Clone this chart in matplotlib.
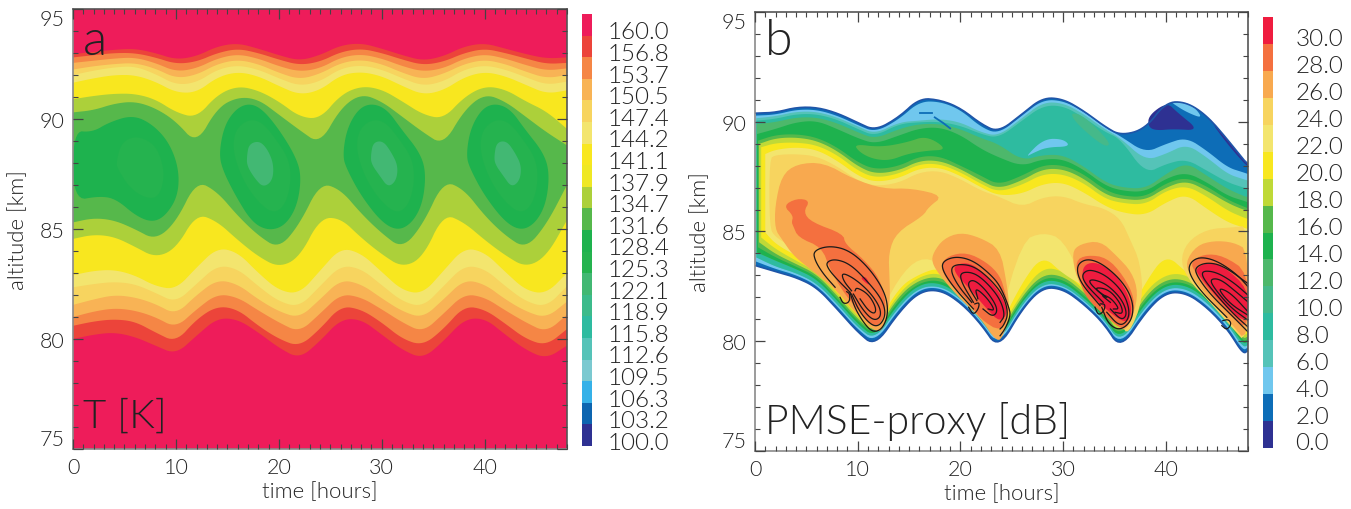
import numpy as np
import matplotlib
matplotlib.use("Agg")
import matplotlib.pyplot as plt

plt.rcParams['font.family'] = ['Lato', 'DejaVu Sans']
plt.rcParams['font.weight'] = 300
plt.rcParams['axes.labelweight'] = 300

W, H = 1351, 510
TEXT = '#222222'

# ---- panel a: temperature -----
T_LABELS = ['100.0', '103.2', '106.3', '109.5', '112.6', '115.8', '118.9', '122.1', '125.3', '128.4',
            '131.6', '134.7', '137.9', '141.1', '144.2', '147.4', '150.5', '153.7', '156.8', '160.0']
T_COLORS = ['#2E3192', '#0D65B0', '#35B1E8', '#7BC9D0', '#55C3B8', '#2EBBA0', '#3CBB8B', '#42B873', '#25B34F', '#1EB24E',
            '#56B84B', '#ACD03A', '#EFE824', '#F8E71F', '#F3E56E', '#F7D45F', '#F8B355', '#F58645', '#EC443A', '#EE1C5A']

t_a = list(range(0, 50, 2))

# isotherm heights below the cold core
low_1 = [80.0, 80.2, 80.3, 80.1, 79.7, 79.3, 80.15, 80.95, 80.9, 80.3, 79.6, 79.1, 79.9, 80.9, 80.9, 80.2, 79.5, 79.1, 79.9, 80.9, 80.95, 80.2, 79.5, 79.1, 79.7]
low_2 = [80.6, 80.8, 80.9, 80.8, 80.3, 79.85, 80.9, 81.5, 81.35, 80.6, 80.0, 79.65, 80.45, 81.5, 81.35, 80.75, 80.0, 79.7, 80.45, 81.5, 81.35, 80.7, 80.0, 79.7, 80.45]
low_3 = [81.0, 81.25, 81.4, 81.3, 81.0, 80.5, 81.35, 82.05, 81.9, 81.3, 80.75, 80.3, 81.15, 82.05, 81.9, 81.35, 80.75, 80.3, 81.15, 82.05, 81.9, 81.3, 80.75, 80.3, 81.1]
low_4 = [81.55, 81.8, 82.0, 81.9, 81.6, 81.1, 82.0, 82.7, 82.5, 81.8, 81.25, 80.95, 81.8, 82.7, 82.5, 81.85, 81.25, 80.95, 81.8, 82.7, 82.5, 81.8, 81.25, 80.95, 81.7]
low_5 = [82.35, 82.5, 82.6, 82.5, 82.1, 81.65, 82.5, 83.35, 83.2, 82.4, 81.7, 81.45, 82.4, 83.35, 83.2, 82.45, 81.7, 81.45, 82.4, 83.35, 83.2, 82.4, 81.7, 81.45, 82.4]
low_6 = [82.9, 83.1, 83.15, 82.9, 82.4, 82.25, 83.25, 84.15, 83.95, 83.0, 82.2, 82.05, 83.1, 84.15, 83.9, 83.05, 82.2, 82.05, 83.1, 84.15, 83.95, 83.05, 82.2, 82.05, 83.0]
low_7 = [84.55, 84.75, 84.65, 84.2, 83.7, 84.1, 85.7, 85.35, 84.5, 83.75, 83.25, 83.7, 85.5, 85.5, 84.6, 83.85, 83.25, 83.7, 85.7, 85.3, 84.5, 83.8, 83.25, 83.75, 85.4]
low_8 = [85.3, 85.5, 85.4, 85.0, 84.5, 85.3, 87.2, 86.7, 85.6, 84.7, 84.1, 85.2, 87.1, 86.8, 85.7, 84.8, 84.1, 85.2, 87.2, 86.8, 85.6, 84.7, 84.1, 85.2, 87.0]

# isotherm heights above the cold core
up_1 = [92.95, 93.05, 93.15, 93.2, 93.0, 92.7, 92.85, 93.3, 93.45, 93.2, 92.9, 92.65, 92.9, 93.35, 93.45, 93.2, 92.9, 92.65, 92.85, 93.3, 93.45, 93.2, 92.95, 92.75, 92.8]
up_2 = [92.8, 92.9, 93.0, 93.0, 92.8, 92.5, 92.6, 93.0, 93.2, 93.0, 92.7, 92.45, 92.6, 93.05, 93.2, 93.0, 92.7, 92.45, 92.6, 93.0, 93.2, 93.0, 92.75, 92.5, 92.55]
up_3 = [92.55, 92.65, 92.75, 92.8, 92.55, 92.15, 92.3, 92.75, 92.95, 92.75, 92.4, 92.15, 92.3, 92.8, 92.95, 92.75, 92.4, 92.15, 92.3, 92.75, 92.95, 92.75, 92.45, 92.2, 92.3]
up_4 = [92.25, 92.4, 92.5, 92.55, 92.3, 91.85, 92.0, 92.5, 92.7, 92.5, 92.1, 91.8, 92.05, 92.55, 92.7, 92.5, 92.1, 91.8, 92.05, 92.5, 92.7, 92.5, 92.15, 91.85, 92.0]
up_5 = [92.0, 92.2, 92.35, 92.4, 92.05, 91.55, 91.65, 92.25, 92.45, 92.25, 91.85, 91.5, 91.7, 92.3, 92.45, 92.25, 91.85, 91.5, 91.7, 92.25, 92.45, 92.25, 91.9, 91.55, 91.7]
up_6 = [91.65, 91.85, 92.0, 92.0, 91.7, 91.2, 91.2, 91.9, 92.15, 91.95, 91.5, 91.1, 91.3, 92.0, 92.15, 91.95, 91.5, 91.1, 91.3, 91.9, 92.15, 91.95, 91.55, 91.15, 91.3]
up_7 = [90.9, 91.05, 91.15, 91.15, 90.9, 90.3, 90.05, 91.1, 91.5, 91.3, 90.8, 90.1, 90.0, 91.1, 91.5, 91.35, 90.8, 90.2, 90.0, 91.0, 91.5, 91.35, 90.8, 90.35, 89.55]
up_8 = [90.3, 90.4, 90.7, 90.8, 90.5, 89.9, 88.85, 90.5, 91.0, 90.9, 90.2, 89.5, 88.85, 90.5, 91.15, 90.8, 90.1, 89.4, 88.8, 90.4, 91.15, 90.8, 90.1, 89.4, 88.8]

# closed cold cells, (time, altitude), colour index into T_COLORS
cell_1_t = [0, 1.9, 3.5, 5.8, 7.7, 9.35, 10.3, 10.2, 9.0, 7.7, 6.1, 4.2, 2.6, 0]
cell_1_z = [89.47, 89.4, 89.85, 90.18, 89.77, 88.93, 87.72, 86.5, 85.6, 85.3, 85.6, 86.36, 86.5, 86.28]
cell_1b_t = [4.2, 4.7, 6.1, 7.7, 8.5, 8.9, 8.4, 7.3, 5.6, 4.35]
cell_1b_z = [88.03, 88.93, 89.24, 88.93, 88.33, 87.42, 86.5, 86.36, 86.81, 87.72]
cell_2_t = [14.2, 14.7, 15.8, 17.1, 18.4, 20.0, 21.6, 22.2, 21.8, 20.6, 19.0, 17.4, 15.8, 14.5]
cell_2_z = [88.48, 89.69, 90.45, 90.72, 90.45, 89.54, 88.33, 87.42, 86.06, 85.15, 84.92, 85.3, 86.5, 87.72]
cell_2b_t = [15.5, 15.8, 17.1, 18.4, 19.7, 21.0, 21.2, 20.6, 19.4, 17.7, 16.3]
cell_2b_z = [88.63, 89.54, 90.0, 89.85, 89.09, 88.18, 87.12, 86.06, 85.68, 86.36, 87.42]
cell_2c_t = [16.9, 17.1, 18.1, 18.9, 19.5, 19.4, 18.5, 17.7, 16.9]
cell_2c_z = [88.33, 88.86, 89.01, 88.63, 87.95, 87.2, 86.89, 87.27, 87.87]
cell_3_t = [26.2, 26.6, 27.7, 29.0, 30.5, 31.9, 33.7, 34.3, 34.0, 33.0, 31.6, 30.0, 28.0, 26.6]
cell_3_z = [88.33, 89.54, 90.45, 90.72, 90.45, 89.54, 88.48, 87.57, 86.2, 85.3, 84.92, 85.3, 86.5, 87.72]
cell_3b_t = [27.5, 27.8, 29.1, 30.4, 31.7, 33.0, 33.2, 32.6, 31.4, 29.7, 28.3]
cell_3b_z = [88.63, 89.54, 90.0, 89.85, 89.09, 88.18, 87.12, 86.06, 85.68, 86.36, 87.42]
cell_3c_t = [28.93, 29.16, 30.13, 30.94, 31.58, 31.42, 30.61, 29.8, 29.0]
cell_3c_z = [88.33, 88.94, 89.01, 88.48, 87.87, 87.2, 86.89, 87.42, 87.95]
cell_4_t = [38.2, 38.6, 39.7, 41.0, 42.5, 43.9, 45.7, 46.3, 46.0, 45.0, 43.6, 42.0, 40.0, 38.6]
cell_4_z = [88.33, 89.54, 90.45, 90.72, 90.45, 89.54, 88.48, 87.57, 86.2, 85.3, 84.92, 85.3, 86.5, 87.72]
cell_4b_t = [39.5, 39.8, 41.1, 42.4, 43.7, 45.0, 45.2, 44.6, 43.4, 41.7, 40.3]
cell_4b_z = [88.63, 89.54, 90.0, 89.85, 89.09, 88.18, 87.12, 86.06, 85.68, 86.36, 87.42]
cell_4c_t = [40.93, 41.16, 42.13, 42.94, 43.58, 43.42, 42.61, 41.8, 41.0]
cell_4c_z = [88.33, 88.94, 89.01, 88.48, 87.87, 87.2, 86.89, 87.42, 87.95]

# ---- panel b: PMSE proxy -----
P_LABELS = ['0.0', '2.0', '4.0', '6.0', '8.0', '10.0', '12.0', '14.0', '16.0', '18.0', '20.0', '22.0', '24.0', '26.0', '28.0', '30.0']
P_COLORS = ['#2E3192', '#0D6DB7', '#70C7EE', '#55C3B8', '#2EBBA0', '#45B98A', '#4DB86B', '#1EB24E', '#56B84B', '#BFD937',
            '#F8E71F', '#F3E56E', '#F7D45F', '#F8A94F', '#F4703F', '#EF1C3F']

t_b = [0, 2, 4, 6, 8, 10, 11.7, 14, 16, 18, 20, 22, 23.7, 26, 28, 30, 32, 34, 35.6, 38, 40, 42, 44, 46, 47.5, 48]

env_top = [90.39, 90.42, 90.66, 90.66, 90.40, 89.96, 89.60, 90.20, 91.07, 91.00, 90.63, 89.90, 89.52, 90.35, 91.10, 91.04, 90.50, 89.80, 89.37, 89.67, 90.90, 90.90, 90.28, 89.20, 88.30, 88.08]
top_4 = [90.28, 90.32, 90.55, 90.55, 90.28, 89.85, 89.52, 90.10, 90.92, 90.92, 90.55, 89.75, 89.44, 90.28, 91.0, 90.96, 90.46, 89.75, 89.34, 88.58, 88.99, 89.29, 88.68, 87.92, 87.70, 87.62]
top_6 = [90.16, 90.25, 90.46, 90.46, 90.20, 89.79, 89.44, 89.98, 90.05, 90.13, 89.98, 89.52, 89.34, 90.16, 90.89, 90.86, 90.35, 89.67, 89.25, 88.23, 88.53, 88.99, 88.38, 87.62, 87.39, 87.32]
top_8 = [90.05, 90.13, 90.35, 90.35, 90.10, 89.67, 89.34, 89.90, 89.98, 90.0, 89.82, 89.44, 89.25, 90.05, 90.73, 90.73, 90.20, 89.55, 89.22, 87.62, 88.08, 88.30, 87.77, 87.24, 87.01, 86.94]
top_12 = [89.90, 89.98, 90.20, 90.20, 89.94, 89.52, 89.22, 89.67, 89.90, 89.90, 89.67, 89.25, 88.99, 88.23, 88.49, 88.49, 87.97, 87.27, 87.01, 86.94, 87.62, 88.15, 87.54, 86.94, 86.63, 86.56]
top_14 = [89.44, 89.67, 89.98, 90.05, 89.67, 89.25, 88.99, 89.37, 89.70, 89.75, 89.40, 88.76, 88.38, 87.97, 88.30, 88.30, 87.82, 87.12, 86.86, 86.79, 87.42, 87.70, 87.24, 86.63, 86.41, 86.33]
top_16 = [89.14, 89.40, 89.44, 89.29, 88.84, 88.15, 87.82, 87.97, 88.43, 88.43, 88.0, 87.54, 87.12, 87.54, 88.03, 88.03, 87.62, 86.91, 86.63, 86.56, 87.21, 87.47, 87.06, 86.45, 86.15, 86.06]
top_18 = [88.99, 89.25, 89.29, 89.14, 88.68, 87.97, 87.62, 87.77, 88.23, 88.23, 87.85, 87.32, 86.94, 87.32, 87.85, 87.85, 87.42, 86.71, 86.48, 86.41, 87.01, 87.32, 86.86, 86.30, 86.0, 85.95]
top_20 = [88.84, 89.03, 89.06, 88.94, 88.49, 87.77, 87.44, 87.62, 88.08, 88.08, 87.70, 87.17, 86.79, 87.12, 87.62, 87.62, 87.21, 86.51, 86.30, 86.21, 86.86, 87.09, 86.60, 85.95, 85.65, 85.57]
top_22 = [88.53, 88.73, 88.84, 88.73, 88.23, 87.54, 87.24, 87.42, 87.88, 87.92, 87.54, 87.01, 86.63, 86.71, 87.17, 87.24, 86.79, 86.18, 85.87, 85.72, 86.33, 86.71, 86.03, 85.42, 85.19, 85.11]

env_bot = [83.44, 83.17, 82.91, 82.46, 81.47, 80.41, 79.77, 81.32, 82.26, 82.35, 81.77, 80.79, 79.62, 81.47, 82.46, 82.38, 81.70, 80.79, 79.62, 81.32, 82.23, 82.20, 81.55, 80.56, 79.42, 79.57]
bot_4 = [83.63, 83.29, 83.02, 82.56, 81.59, 80.53, 79.93, 81.47, 82.38, 82.46, 81.88, 80.89, 79.77, 81.59, 82.56, 82.49, 81.80, 80.89, 79.77, 81.47, 82.33, 82.30, 81.65, 80.68, 79.57, 79.72]
bot_8 = [83.82, 83.40, 83.11, 82.65, 81.70, 80.63, 80.05, 81.59, 82.46, 82.53, 81.97, 80.98, 79.88, 81.70, 82.64, 82.56, 81.88, 80.98, 79.88, 81.59, 82.43, 82.41, 81.77, 80.79, 79.72, 79.83]
bot_14 = [84.05, 83.67, 83.29, 82.84, 81.85, 80.79, 80.15, 81.77, 82.61, 82.68, 82.10, 81.09, 80.0, 81.85, 82.79, 82.71, 82.0, 81.09, 80.0, 81.77, 82.58, 82.56, 81.92, 80.94, 79.87, 79.98]
bot_16 = [84.28, 83.82, 83.40, 82.96, 81.95, 80.91, 80.26, 81.92, 82.68, 82.81, 82.23, 81.24, 80.12, 81.95, 82.91, 82.84, 82.11, 81.21, 80.12, 81.92, 82.68, 82.68, 82.05, 81.04, 79.98, 80.10]
bot_18 = [84.51, 83.97, 83.52, 83.06, 82.08, 81.01, 80.35, 82.08, 82.81, 82.96, 82.35, 81.39, 80.23, 82.08, 83.06, 82.99, 82.23, 81.35, 80.23, 82.08, 82.84, 82.81, 82.15, 81.16, 80.10, 80.22]
bot_20 = [84.73, 84.20, 83.67, 83.17, 82.20, 81.13, 80.46, 82.23, 82.96, 83.14, 82.46, 81.54, 80.38, 82.23, 83.37, 83.22, 82.35, 81.50, 80.38, 82.30, 83.06, 83.06, 82.30, 81.32, 80.25, 80.37]
bot_22 = [84.96, 84.43, 83.90, 83.32, 82.35, 81.24, 80.58, 82.46, 83.06, 83.37, 82.61, 81.70, 80.53, 82.68, 83.93, 83.06, 82.53, 81.62, 80.53, 82.68, 83.98, 83.14, 82.46, 81.44, 80.41, 80.48]

# 24 dB region, outline clockwise from the left edge
r24_t = [1.4, 2, 4, 6, 8, 10, 11.7, 14, 16, 18, 20, 22, 23.7, 26, 28, 30, 32, 34, 35.6, 36.5, 37.5, 37.8, 36.36, 35.6, 34, 32, 30, 28, 26, 23.7, 22, 20, 18, 16, 14, 11.7, 10, 8, 6, 4, 2, 1.4]
r24_z = [88.3, 88.49, 88.53, 88.43, 87.97, 87.32, 87.06, 87.21, 87.70, 87.77, 87.39, 86.86, 86.60, 86.10, 86.56, 86.63, 86.25, 86.06, 85.57, 84.66, 83.6, 81.92, 80.25, 80.79, 81.77, 82.68, 84.66, 84.96, 84.58, 80.79, 81.85, 82.84, 83.6, 83.82, 82.91, 80.79, 81.39, 82.53, 83.52, 84.2, 84.73, 85.19]
r24b_t = [41.4, 42.04, 44, 46.6, 48.05, 48.05, 46.26, 44, 42.4]
r24b_z = [83.6, 84.51, 85.11, 85.19, 85.27, 79.8, 80.71, 81.93, 82.68]

# 26 dB regions
r26a_t = [1.95, 2.6, 4.06, 6.66, 9.58, 12.5, 15.26, 18.34, 16.88, 16.4, 13.8, 13.0, 13.1, 13.15, 12.66, 11.85, 9.58, 7.63, 5.36, 3.73, 2.6, 1.95]
r26a_z = [86.18, 87.55, 88.08, 88.15, 87.39, 86.94, 86.97, 86.63, 86.1, 85.72, 84.96, 84.05, 82.84, 81.77, 80.71, 80.33, 81.39, 82.46, 83.29, 83.9, 84.66, 85.11]
r26b_t = [17.37, 18.34, 19.97, 21.9, 23.86, 24.5, 24.83, 24.2, 23.54, 21.9, 19.97, 18.0, 17.2]
r26b_z = [84.05, 84.66, 84.96, 84.73, 84.2, 82.68, 81.32, 80.25, 79.95, 81.09, 81.93, 82.99, 83.6]
r26c_t = [30.84, 31.65, 33.6, 35.2, 36.7, 37.3, 36.85, 36.0, 34.9, 33.0, 31.3]
r26c_z = [84.05, 84.43, 84.58, 83.9, 83.14, 82.23, 81.17, 80.41, 80.86, 81.62, 82.84]
r26d_t = [41.9, 43.0, 44.64, 46.6, 48.05, 48.05, 46.26, 44.0, 42.4]
r26d_z = [83.6, 84.36, 84.58, 84.51, 84.13, 79.87, 80.86, 82.08, 82.99]

# 28 dB regions
r28a_t = [2.76, 4.06, 5.36, 4.71, 5.52, 8.6, 8.77, 10.55, 12.18, 12.82, 12.34, 11.53, 10.23, 8.6, 7.3, 6.5, 4.2, 3.7, 3.57, 3.73]
r28a_z = [86.18, 86.51, 86.41, 85.88, 85.42, 84.89, 84.43, 83.75, 82.84, 81.62, 80.86, 80.63, 81.32, 82.23, 83.29, 84.28, 84.73, 85.27, 85.42, 85.72]
r28b_t = [18.0, 18.83, 20.62, 22.56, 23.86, 24.35, 24.83, 24.0, 21.9, 20.62, 18.83]
r28b_z = [83.44, 83.9, 84.05, 83.6, 82.99, 82.23, 81.32, 80.41, 81.01, 81.93, 82.68]
r28c_t = [31.2, 32.3, 34.25, 35.87, 37.0, 36.7, 35.87, 34.25, 32.3, 31.5]
r28c_z = [83.67, 83.93, 83.82, 82.99, 81.93, 81.01, 80.48, 81.09, 81.93, 82.84]
r28d_t = [42.4, 43.7, 45.6, 48.05, 48.05, 46.6, 44.3, 42.85]
r28d_z = [83.6, 83.98, 83.9, 83.14, 80.56, 81.0, 82.23, 83.14]

# 30 dB regions
r30a_t = [10.25, 10.8, 11.2, 10.8]
r30a_z = [82.9, 82.95, 82.55, 82.65]
r30b_t = [19.3, 20.62, 21.9, 23.86, 24.67, 23.86, 22.56, 20.94, 19.64]
r30b_z = [83.44, 83.6, 83.29, 82.23, 81.32, 80.86, 81.47, 82.38, 82.99]
r30c_t = [31.8, 32.14, 33.3, 34.9, 36.2, 36.7, 36.36, 35.4, 33.76, 32.3]
r30c_z = [83.06, 83.52, 83.6, 83.14, 82.3, 81.47, 80.86, 81.0, 81.62, 82.3]
r30d_t = [42.85, 44.0, 45.6, 48.05, 48.05, 46.9, 45.0, 43.34]
r30d_z = [83.29, 83.6, 83.44, 82.38, 80.94, 81.09, 81.98, 82.91]

# small patches up in the thin layer
green_t = [30.7, 32.0, 34.6, 34.25, 33.0, 31.2]
green_z = [90.43, 90.28, 89.07, 88.84, 89.22, 89.98]
mid_green_t = [9.6, 12.2, 14.8, 16.7, 18.8, 16.7, 14.8, 13.1, 11.5, 10.2]
mid_green_z = [88.99, 88.84, 89.06, 89.37, 88.73, 88.68, 88.53, 88.23, 88.3, 88.6]
sky_t = [26.3, 28.1, 30.0, 30.74, 28.4, 27.1]
sky_z = [88.38, 89.22, 89.22, 88.87, 88.84, 88.58]
navy_t = [38.3, 40.1, 41.1, 43.3, 40.7, 39.1, 38.3]
navy_z = [90.28, 90.89, 90.43, 89.6, 89.67, 89.6, 89.75]
navy_edge_t = [44.5, 46.0, 47.5, 48.05, 48.05, 46.5, 45.0]
navy_edge_z = [90.0, 89.2, 88.3, 88.08, 87.9, 88.7, 89.6]
sky_strip_t = [40.6, 42.4, 43.7, 42.04, 40.75]
sky_strip_z = [90.89, 90.86, 90.13, 90.43, 90.81]

# black contour lines, (time, altitude)
lines_t = [
    [7.8, 6.66, 5.84, 5.68, 7.3, 9.25, 11.2, 12.66, 12.99, 12.5, 11.69, 10.9, 9.74, 9.25],
    [9.25, 7.95, 7.14, 6.92, 7.79, 9.25, 10.9, 12.34, 12.76, 12.18, 11.36, 10.2, 9.4],
    [9.4, 8.6, 8.44, 9.74, 11.2, 12.18, 12.24, 11.53, 10.55, 9.58],
    [9.74, 9.9, 11.04, 11.78, 11.69, 11.04, 10.23],
    [8.28, 8.6, 9.19, 9.25, 8.93],
    [21.27, 19.32, 18.18, 18.34, 19.64, 21.27, 22.89, 23.86, 24.67, 24.9, 24.35, 23.86],
    [21.1, 19.64, 19.0, 19.64, 21.27, 22.89, 24.2, 24.67, 24.2, 23.86],
    [21.27, 20.1, 19.97, 21.27, 22.56, 23.86, 24.35, 23.86],
    [21.6, 20.6, 21.27, 22.56, 23.7, 23.2, 22.2],
    [21.7, 21.4, 22.56, 23.4, 22.7],
    [20.8, 21.27, 21.75, 21.85, 21.4],
    [33.6, 31.65, 31.26, 32.3, 33.9, 35.87, 36.85, 36.7, 35.55, 34.4, 33.76],
    [33.9, 32.14, 31.8, 32.6, 34.25, 35.87, 36.5, 36.2, 35.4, 34.25],
    [34.09, 32.46, 32.8, 34.25, 35.7, 36.26, 35.7, 34.6],
    [34.25, 32.9, 34.4, 35.55, 35.87, 35.06],
    [34.6, 33.6, 34.6, 35.5, 34.9],
    [33.1, 33.44, 34.0, 34.1, 33.6],
    [45.94, 43.34, 42.2, 42.37, 43.34, 44.97, 46.9, 48.05],
    [48.05, 46.6, 44.3, 43.0, 42.85, 44.0, 45.6, 48.05],
    [48.05, 46.4, 44.3, 43.5, 43.66, 44.97, 46.6, 48.05],
    [48.05, 46.26, 44.64, 44.3, 45.3, 46.9, 48.05],
    [48.05, 46.26, 44.97, 46.26, 48.05],
    [45.45, 45.94, 46.4, 46.1, 45.55],
]
lines_z = [
    [82.46, 83.06, 83.67, 84.13, 84.36, 84.13, 83.29, 82.23, 81.32, 80.63, 80.4, 80.63, 81.47, 82.23],
    [82.23, 82.84, 83.29, 83.6, 83.75, 83.52, 82.76, 81.93, 81.24, 80.71, 80.71, 81.32, 82.15],
    [82.3, 82.76, 83.14, 82.84, 82.23, 81.55, 81.09, 80.94, 81.39, 82.15],
    [82.3, 82.46, 82.15, 81.55, 81.24, 81.39, 81.93],
    [82.0, 81.7, 81.77, 82.15, 82.26],
    [81.47, 82.46, 83.29, 83.67, 83.87, 83.67, 83.06, 82.53, 81.62, 81.17, 80.56, 80.25],
    [81.77, 82.61, 83.29, 83.52, 83.44, 82.84, 82.08, 81.24, 80.71, 80.56],
    [81.77, 82.68, 83.14, 83.14, 82.68, 81.93, 81.17, 80.86],
    [81.85, 82.61, 82.84, 82.3, 81.47, 81.09, 81.47],
    [81.93, 82.46, 82.0, 81.39, 81.47],
    [81.55, 81.2, 81.47, 81.77, 81.7],
    [81.62, 82.68, 83.44, 83.78, 83.52, 82.68, 81.77, 80.94, 80.48, 80.78, 81.55],
    [81.77, 82.61, 83.06, 83.29, 82.99, 82.23, 81.39, 80.86, 80.71, 81.32],
    [82.0, 82.68, 82.84, 82.6, 81.93, 81.24, 80.94, 81.47],
    [82.0, 82.46, 82.38, 81.77, 81.24, 81.32],
    [81.77, 82.15, 82.0, 81.47, 81.47],
    [81.55, 81.17, 81.39, 81.7, 81.7],
    [81.09, 82.3, 83.14, 83.6, 83.85, 83.67, 83.06, 82.46],
    [80.4, 81.09, 82.15, 82.99, 83.37, 83.6, 83.44, 82.61],
    [80.63, 81.32, 82.46, 82.99, 83.22, 83.14, 82.68, 82.08],
    [80.94, 81.55, 82.46, 82.84, 82.84, 82.23, 81.77],
    [81.17, 81.7, 82.46, 82.23, 81.32],
    [80.71, 80.51, 80.79, 81.0, 80.94],
]


def smooth(x, y, closed=False, passes=3):
    """Corner cutting so the read points do not show as a polygon"""
    p = np.column_stack([x, y]).astype(float)
    for _ in range(passes):
        q = np.roll(p, -1, axis=0) if closed else p[1:]
        a = p if closed else p[:-1]
        cut = np.empty((2 * len(a), 2))
        cut[0::2] = 0.75 * a + 0.25 * q
        cut[1::2] = 0.25 * a + 0.75 * q
        p = cut if closed else np.vstack([p[0], cut, p[-1]])
    return p[:, 0], p[:, 1]


def band(ax, t, low, up, color, left=0.0):
    t = np.maximum(np.array(t, float), left)
    tl, zl = smooth(t, low)
    tu, zu = smooth(t, up)
    ax.fill(np.r_[tu, tl[::-1]], np.r_[zu, zl[::-1]], color=color, lw=0)


def blob(ax, t, z, color, passes=3):
    ts, zs = smooth(t, z, closed=True, passes=passes)
    ax.fill(ts, zs, color=color, lw=0)


def frame(ax):
    ax.set_xlim(0, 48)
    ax.set_ylim(75, 95)
    ax.set_xticks(range(0, 50, 10))
    ax.set_xticks(range(0, 49), minor=True)
    ax.set_yticks(range(75, 100, 5))
    ax.set_yticks(range(75, 96), minor=True)
    ax.tick_params(which='major', direction='in', top=True, right=True, length=7.5, width=0.9,
                   color='#444444', labelsize=15.5, labelcolor=TEXT, pad=6)
    ax.tick_params(which='minor', direction='in', top=True, right=True, length=3.6, width=0.8, color='#444444')
    # end labels sit inside the axis range
    labels = ax.get_yticklabels()
    labels[0].set_va('bottom')
    labels[-1].set_va('top')
    for side in ax.spines.values():
        side.set_color('#555555')
        side.set_linewidth(1.2)
    ax.spines['left'].set_color('#8a8a8a')
    ax.spines['bottom'].set_color('#8a8a8a')
    ax.set_xlabel('time [hours]', fontsize=16, color=TEXT, labelpad=3)
    ax.set_ylabel('altitude [km]', fontsize=16, color=TEXT, labelpad=8)
    ax.set_axisbelow(False)


def colorbar(fig, box, labels, colors, pad):
    cax = fig.add_axes(box)
    n = len(colors)
    cax.barh(np.arange(n) + 0.5, [1] * n, height=1.0, color=colors, lw=0)
    cax.set_xlim(0, 1)
    cax.set_ylim(0, n)
    cax.set_xticks([])
    cax.set_yticks(np.arange(n) + 0.26)
    cax.set_yticklabels(labels, fontsize=17.5, color=TEXT)
    cax.yaxis.tick_right()
    cax.tick_params(axis='y', length=0, pad=pad)
    for side in cax.spines.values():
        side.set_visible(False)


def px_box(x0, x1, y0, y1):
    return [x0 / W, 1 - y1 / H, (x1 - x0) / W, (y1 - y0) / H]


def draw_temperature(ax):
    c = dict(zip(T_LABELS, T_COLORS))
    ax.set_facecolor(c['160.0'])
    pairs = [(low_1, up_1, '156.8'), (low_2, up_2, '153.7'), (low_3, up_3, '150.5'), (low_4, up_4, '147.4'),
             (low_5, up_5, '144.2'), (low_6, up_6, '141.1'), (low_7, up_7, '134.7'), (low_8, up_8, '131.6')]
    for low, up, key in pairs:
        band(ax, t_a, low, up, c[key])
    cells = [(cell_1_t, cell_1_z, '128.4'), (cell_1b_t, cell_1b_z, '125.3'),
             (cell_2_t, cell_2_z, '128.4'), (cell_2b_t, cell_2b_z, '125.3'), (cell_2c_t, cell_2c_z, '122.1'),
             (cell_3_t, cell_3_z, '128.4'), (cell_3b_t, cell_3b_z, '125.3'), (cell_3c_t, cell_3c_z, '122.1'),
             (cell_4_t, cell_4_z, '128.4'), (cell_4b_t, cell_4b_z, '125.3'), (cell_4c_t, cell_4c_z, '122.1')]
    for t, z, key in cells:
        blob(ax, t, z, c[key])
    frame(ax)
    ax.text(1.0, 93.55, 'a', fontsize=36, color=TEXT, va='center')
    ax.text(1.0, 76.5, 'T [K]', fontsize=29, color=TEXT, va='center')


def draw_proxy(ax):
    c = dict(zip(P_LABELS, P_COLORS))
    ax.set_facecolor('white')
    stack = [(env_bot, env_top, '2.0', 0.08), (bot_4, top_4, '4.0', 0.1), (bot_8, top_6, '6.0', 0.12),
             (bot_8, top_8, '8.0', 0.14), (bot_14, top_12, '12.0', 0.16), (bot_14, top_14, '14.0', 0.2),
             (bot_16, top_16, '16.0', 0.3), (bot_18, top_18, '18.0', 0.4), (bot_20, top_20, '20.0', 0.6),
             (bot_22, top_22, '22.0', 1.0)]
    for low, up, key, left in stack:
        band(ax, t_b, low, up, c[key], left)
    # outline of the layer
    ts, zs = smooth(np.maximum(t_b, 0.08), env_top)
    ax.plot(ts, zs, color='#1F55A8', lw=1.2)
    ts, zs = smooth(np.maximum(t_b, 0.08), env_bot)
    ax.plot(ts, zs, color='#1F55A8', lw=1.2)

    blob(ax, navy_t, navy_z, c['0.0'])
    blob(ax, navy_edge_t, navy_edge_z, c['0.0'], passes=1)
    blob(ax, sky_strip_t, sky_strip_z, c['4.0'])
    blob(ax, sky_t, sky_z, c['4.0'])
    blob(ax, green_t, green_z, c['10.0'])
    blob(ax, mid_green_t, mid_green_z, c['16.0'])
    ax.plot([16.1, 17.2], [90.4, 90.4], color=c['2.0'], lw=1.3)
    ax.plot([17.5, 18.3, 19.0], [90.2, 89.95, 89.7], color=c['2.0'], lw=1.3)

    regions = [(r24_t, r24_z, '24.0'), (r24b_t, r24b_z, '24.0'),
               (r26a_t, r26a_z, '26.0'), (r26b_t, r26b_z, '26.0'), (r26c_t, r26c_z, '26.0'), (r26d_t, r26d_z, '26.0'),
               (r28a_t, r28a_z, '28.0'), (r28b_t, r28b_z, '28.0'), (r28c_t, r28c_z, '28.0'), (r28d_t, r28d_z, '28.0'),
               (r30a_t, r30a_z, '30.0'), (r30b_t, r30b_z, '30.0'), (r30c_t, r30c_z, '30.0'), (r30d_t, r30d_z, '30.0')]
    for t, z, key in regions:
        blob(ax, t, z, c[key], passes=2)

    for t, z in zip(lines_t, lines_z):
        ts, zs = smooth(t, z)
        ax.plot(ts, zs, color='#1a1a1a', lw=0.9)

    frame(ax)
    ax.text(1.0, 93.7, 'b', fontsize=36, color=TEXT, va='center')
    ax.text(1.0, 76.4, 'PMSE-proxy [dB]', fontsize=29.5, color=TEXT, va='center')


def main():
    fig = plt.figure(figsize=(W / 100, H / 100), dpi=100)
    ax_a = fig.add_axes(px_box(73, 567, 10, 450))
    ax_b = fig.add_axes(px_box(755, 1248, 13, 452))
    draw_temperature(ax_a)
    draw_proxy(ax_b)
    colorbar(fig, px_box(582, 592, 15, 447), T_LABELS, T_COLORS, 11)
    colorbar(fig, px_box(1263, 1273, 18, 449), P_LABELS, P_COLORS, 16)
    fig.savefig('out.png', dpi=100)


if __name__ == "__main__":
    main()
